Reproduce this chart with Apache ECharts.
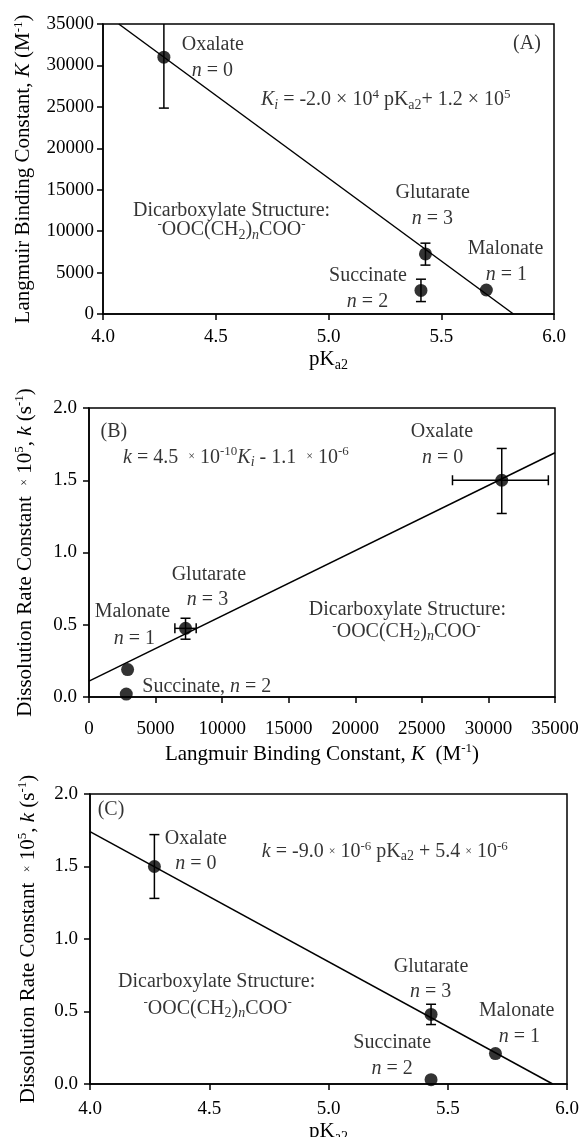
<!DOCTYPE html>
<html>
<head>
<meta charset="utf-8">
<script src="https://cdn.jsdelivr.net/npm/echarts@6/dist/echarts.min.js"></script>
<style>
  html, body { margin: 0; padding: 0; background: #fff; }
  #chart { width: 581px; height: 1137px; }
</style>
</head>
<body>
<div id="chart"></div>
<script>
// compounds, same order in every panel
var names = ['Oxalate', 'Malonate', 'Succinate', 'Glutarate'];

// (A) pKa2 vs K
var pkaA = [4.27, 5.70, 5.41, 5.43];
var kA = [31000, 2900, 2850, 7250];
var kALow = [24850, 2900, 1500, 5900];
var kAHigh = [37150, 2900, 4200, 8550];
var fitA = [[4.07, 35000], [5.82, 0]];

// (B) K vs k
var kB = [31000, 2900, 2800, 7250];
var kBLow = [27300, 2900, 2800, 6450];
var kBHigh = [34500, 2900, 2800, 8050];
var rateB = [1.5, 0.19, 0.02, 0.475];
var rateBLow = [1.27, 0.19, 0.02, 0.40];
var rateBHigh = [1.72, 0.19, 0.02, 0.545];
var fitB = [[0, 0.11], [35000, 1.69]];

// (C) pKa2 vs k
var pkaC = [4.27, 5.70, 5.43, 5.43];
var rateC = [1.5, 0.21, 0.03, 0.48];
var rateCLow = [1.28, 0.21, 0.03, 0.41];
var rateCHigh = [1.72, 0.21, 0.03, 0.55];
var fitC = [[4.0, 1.74], [5.94, 0]];

// text snippets
var struct = '{sup|-}OOC(CH{sub|2}){subi|n}COO{sup|-}';
var eqA = '{i|K}{subi|i} = -2.0 \u00d7 10{sup|4} pK{sub|a2}+ 1.2 \u00d7 10{sup|5}';
var eqB = '{i|k} = 4.5  {x|\u00d7} 10{sup|-10}{i|K}{subi|i} - 1.1  {x|\u00d7} 10{sup|-6}';
var eqC = '{i|k} = -9.0 {x|\u00d7} 10{sup|-6} pK{sub|a2} + 5.4 {x|\u00d7} 10{sup|-6}';
function nEq(v) { return '{i|n} = ' + v; }

// annotations: [x, y, text] in data units
var notesA = [
  [5.88, 32670, '(A)'],
  [4.487, 32470, 'Oxalate'], [4.485, 29370, nEq(0)],
  [5.254, 25830, eqA],
  [4.57, 12470, 'Dicarboxylate Structure:'], [4.57, 10140, struct],
  [5.462, 14640, 'Glutarate'], [5.461, 11550, nEq(3)],
  [5.785, 7930, 'Malonate'], [5.789, 4710, nEq(1)],
  [5.175, 4590, 'Succinate'], [5.173, 1480, nEq(2)]
];
var notesB = [
  [1870, 1.836, '(B)'],
  [11040, 1.659, eqB],
  [26510, 1.836, 'Oxalate'], [26560, 1.659, nEq(0)],
  [9000, 0.844, 'Glutarate'], [8900, 0.671, nEq(3)],
  [3260, 0.590, 'Malonate'], [3400, 0.406, nEq(1)],
  [8850, 0.071, 'Succinate, ' + nEq(2)],
  [23915, 0.602, 'Dicarboxylate Structure:'], [23845, 0.452, struct]
];
var notesC = [
  [4.088, 1.89, '(C)'],
  [4.444, 1.69, 'Oxalate'], [4.444, 1.517, nEq(0)],
  [5.236, 1.602, eqC],
  [4.531, 0.706, 'Dicarboxylate Structure:'], [4.535, 0.522, struct],
  [5.43, 0.809, 'Glutarate'], [5.428, 0.637, nEq(3)],
  [5.789, 0.506, 'Malonate'], [5.80, 0.326, nEq(1)],
  [5.267, 0.285, 'Succinate'], [5.267, 0.108, nEq(2)]
];

var FONT = 'Liberation Serif';
function richSet(size) {
  return {
    i: { fontStyle: 'italic', fontFamily: FONT, fontSize: size, lineHeight: 24, color: '#000' },
    sup: { fontFamily: FONT, fontSize: 13, lineHeight: 13, verticalAlign: 'top', color: '#000' },
    sub: { fontFamily: FONT, fontSize: 14, lineHeight: 13, verticalAlign: 'bottom', color: '#000' },
    subi: { fontFamily: FONT, fontSize: 14, lineHeight: 13, fontStyle: 'italic', verticalAlign: 'bottom', color: '#000' },
    x: { fontFamily: FONT, fontSize: 12, lineHeight: 24, color: '#000' }
  };
}

function rows(xs, ys, xl, xh, yl, yh) {
  return xs.map(function(x, i) {
    return [x, ys[i], yl[i], yh[i], xl ? xl[i] : x, xh ? xh[i] : x];
  });
}

function valueAxis(grid, min, max, step, digits, name, gap, margin) {
  return {
    type: 'value', gridIndex: grid, min: min, max: max, interval: step,
    name: name, nameLocation: 'middle', nameGap: gap,
    nameTextStyle: { fontFamily: FONT, fontSize: 21, color: '#000', lineHeight: 24, rich: richSet(21) },
    axisLine: { show: true, onZero: false, lineStyle: { color: '#000', width: 1.5 } },
    axisTick: { show: true, inside: false, length: 6, lineStyle: { color: '#000', width: 1.5 } },
    axisLabel: {
      fontFamily: FONT, fontSize: 19, color: '#000', margin: margin,
      formatter: function(v) { return digits ? v.toFixed(digits) : String(v); }
    },
    splitLine: { show: false }
  };
}

function errorBars(grid, data) {
  return {
    type: 'custom', xAxisIndex: grid, yAxisIndex: grid, data: data, clip: true, z: 3,
    renderItem: function(params, api) {
      var x = api.value(0), y = api.value(1);
      var yl = api.value(2), yh = api.value(3), xl = api.value(4), xh = api.value(5);
      var cap = 5, kids = [];
      var st = { stroke: '#000', lineWidth: 1.5 };
      if (yh > yl) {
        var a = api.coord([x, yl]), b = api.coord([x, yh]);
        kids.push({ type: 'line', shape: { x1: a[0], y1: a[1], x2: b[0], y2: b[1] }, style: st });
        kids.push({ type: 'line', shape: { x1: a[0] - cap, y1: a[1], x2: a[0] + cap, y2: a[1] }, style: st });
        kids.push({ type: 'line', shape: { x1: b[0] - cap, y1: b[1], x2: b[0] + cap, y2: b[1] }, style: st });
      }
      if (xh > xl) {
        var c = api.coord([xl, y]), d = api.coord([xh, y]);
        kids.push({ type: 'line', shape: { x1: c[0], y1: c[1], x2: d[0], y2: d[1] }, style: st });
        kids.push({ type: 'line', shape: { x1: c[0], y1: c[1] - cap, x2: c[0], y2: c[1] + cap }, style: st });
        kids.push({ type: 'line', shape: { x1: d[0], y1: d[1] - cap, x2: d[0], y2: d[1] + cap }, style: st });
      }
      return { type: 'group', children: kids };
    }
  };
}

function fitLine(grid, data) {
  return {
    type: 'line', xAxisIndex: grid, yAxisIndex: grid, data: data,
    showSymbol: false, symbol: 'none', z: 2, silent: true,
    lineStyle: { color: '#000', width: 1.5 }
  };
}

function dots(grid, xs, ys) {
  return {
    type: 'scatter', xAxisIndex: grid, yAxisIndex: grid, z: 4,
    data: xs.map(function(x, i) { return [x, ys[i], names[i]]; }),
    symbol: 'circle', symbolSize: 13, itemStyle: { color: '#000' }
  };
}

function notes(grid, data) {
  return {
    type: 'scatter', xAxisIndex: grid, yAxisIndex: grid, z: 5, silent: true,
    data: data, symbol: 'circle', symbolSize: 1,
    itemStyle: { color: 'rgba(0,0,0,0)' },
    label: {
      show: true, position: ['50%', '50%'], align: 'center', verticalAlign: 'middle',
      formatter: function(p) { return p.data[2]; },
      fontFamily: FONT, fontSize: 20, color: '#000', lineHeight: 24,
      textBorderWidth: 0, rich: richSet(20)
    }
  };
}

var dom = document.getElementById('chart');
var myChart = echarts.init(dom, null, { renderer: 'canvas' });

var gridStyle = { show: true, borderColor: '#000', borderWidth: 1.5, outerBoundsMode: 'none', containLabel: false };

var option = {
  backgroundColor: '#fff',
  animation: false,
  grid: [
    Object.assign({ left: 103, top: 24, width: 451, height: 290 }, gridStyle),
    Object.assign({ left: 89, top: 408, width: 466, height: 289 }, gridStyle),
    Object.assign({ left: 90, top: 794, width: 477, height: 290 }, gridStyle)
  ],
  xAxis: [
    valueAxis(0, 4, 6, 0.5, 1, 'pK{sub|a2}', 33, 14),
    valueAxis(1, 0, 35000, 5000, 0, 'Langmuir Binding Constant, {i|K}  (M{sup|-1})', 45, 23),
    valueAxis(2, 4, 6, 0.5, 1, 'pK{sub|a2}', 27, 16)
  ],
  yAxis: [
    valueAxis(0, 0, 35000, 5000, 0, 'Langmuir Binding Constant, {i|K} (M{sup|-1})', 66, 9),
    valueAxis(1, 0, 2, 0.5, 1, 'Dissolution Rate Constant  {x|\u00d7} 10{sup|5}, {i|k} (s{sup|-1})', 52, 12),
    valueAxis(2, 0, 2, 0.5, 1, 'Dissolution Rate Constant  {x|\u00d7} 10{sup|5}, {i|k} (s{sup|-1})', 50, 12)
  ],
  series: [
    fitLine(0, fitA),
    errorBars(0, rows(pkaA, kA, null, null, kALow, kAHigh)),
    dots(0, pkaA, kA),
    notes(0, notesA),

    fitLine(1, fitB),
    errorBars(1, rows(kB, rateB, kBLow, kBHigh, rateBLow, rateBHigh)),
    dots(1, kB, rateB),
    notes(1, notesB),

    fitLine(2, fitC),
    errorBars(2, rows(pkaC, rateC, null, null, rateCLow, rateCHigh)),
    dots(2, pkaC, rateC),
    notes(2, notesC)
  ]
};

myChart.setOption(option);

window.addEventListener('resize', function() {
  myChart.resize();
});
</script>
</body>
</html>
